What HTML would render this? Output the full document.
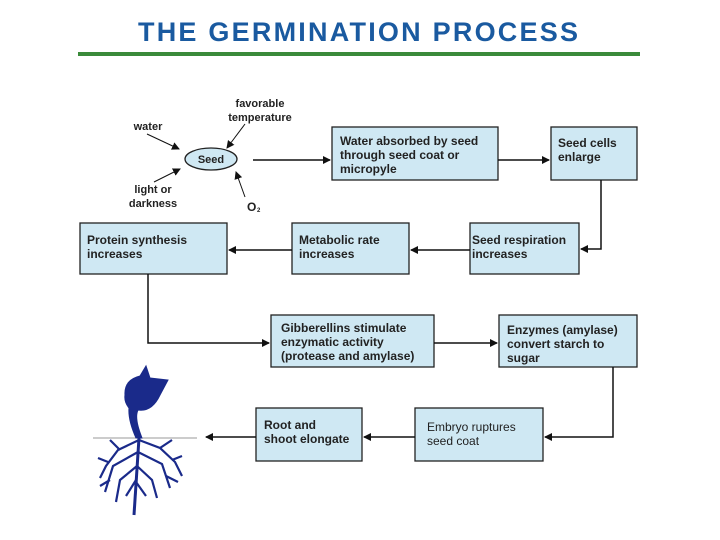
<!DOCTYPE html>
<html><head><meta charset="utf-8"><style>
body{margin:0;background:#fff}
svg{display:block}
text{font-family:"Liberation Sans",sans-serif;font-size:12px;font-weight:bold;fill:#222}
.b{fill:#cfe8f3;stroke:#222;stroke-width:1.3}
.l{stroke:#111;stroke-width:1.5;fill:none}
.t{stroke:#111;stroke-width:1;fill:none}
</style></head><body>
<svg width="720" height="540" viewBox="0 0 720 540">
<defs><marker id="a" markerWidth="8" markerHeight="8" refX="7" refY="4" orient="auto" markerUnits="userSpaceOnUse"><path d="M0,0L8,4L0,8z" fill="#111"/></marker></defs>
<text x="358" y="41" text-anchor="middle" style="font-size:27px;fill:#1a5aa0;font-weight:bold" textLength="440">THE GERMINATION PROCESS</text>
<rect x="78" y="52" width="562" height="4" fill="#3a8a3a"/>
<!-- seed -->
<ellipse cx="211" cy="159" rx="26" ry="11" class="b"/>
<text x="211" y="163" text-anchor="middle" style="font-size:11px">Seed</text>
<text x="148" y="130" text-anchor="middle" style="font-size:11px">water</text>
<text x="260" y="107" text-anchor="middle" style="font-size:11px">favorable</text>
<text x="260" y="121" text-anchor="middle" style="font-size:11px">temperature</text>
<text x="153" y="193" text-anchor="middle" style="font-size:11px">light or</text>
<text x="153" y="207" text-anchor="middle" style="font-size:11px">darkness</text>
<text x="247" y="211" style="font-size:12px">O</text><text x="257" y="212" style="font-size:6px">2</text>
<path class="t" d="M147,134 L179,149" marker-end="url(#a)"/>
<path class="t" d="M245,124 L227,148" marker-end="url(#a)"/>
<path class="t" d="M154,182 L180,169" marker-end="url(#a)"/>
<path class="t" d="M245,197 L236,172" marker-end="url(#a)"/>
<!-- boxes -->
<rect class="b" x="332" y="127" width="166" height="53"/>
<text x="340" y="145">Water absorbed by seed</text><text x="340" y="159">through seed coat or</text><text x="340" y="173">micropyle</text>
<rect class="b" x="551" y="127" width="86" height="53"/>
<text x="558" y="147">Seed cells</text><text x="558" y="161">enlarge</text>
<rect class="b" x="470" y="223" width="109" height="51"/>
<text x="472" y="244">Seed respiration</text><text x="472" y="258">increases</text>
<rect class="b" x="292" y="223" width="117" height="51"/>
<text x="299" y="244">Metabolic rate</text><text x="299" y="258">increases</text>
<rect class="b" x="80" y="223" width="147" height="51"/>
<text x="87" y="244">Protein synthesis</text><text x="87" y="258">increases</text>
<rect class="b" x="271" y="315" width="163" height="52"/>
<text x="281" y="332">Gibberellins stimulate</text><text x="281" y="346">enzymatic activity</text><text x="281" y="360">(protease and amylase)</text>
<rect class="b" x="499" y="315" width="138" height="52"/>
<text x="507" y="334">Enzymes (amylase)</text><text x="507" y="348">convert starch to</text><text x="507" y="362">sugar</text>
<rect class="b" x="415" y="408" width="128" height="53"/>
<text x="427" y="431" style="font-weight:normal">Embryo ruptures</text><text x="427" y="445" style="font-weight:normal">seed coat</text>
<rect class="b" x="256" y="408" width="106" height="53"/>
<text x="264" y="429">Root and</text><text x="264" y="443">shoot elongate</text>
<!-- connectors -->
<path class="l" d="M253,160 L330,160" marker-end="url(#a)"/>
<path class="l" d="M498,160 L549,160" marker-end="url(#a)"/>
<path class="l" d="M601,180 L601,249 L581,249" marker-end="url(#a)"/>
<path class="l" d="M470,250 L411,250" marker-end="url(#a)"/>
<path class="l" d="M292,250 L229,250" marker-end="url(#a)"/>
<path class="l" d="M148,274 L148,343 L269,343" marker-end="url(#a)"/>
<path class="l" d="M434,343 L497,343" marker-end="url(#a)"/>
<path class="l" d="M613,367 L613,437 L545,437" marker-end="url(#a)"/>
<path class="l" d="M415,437 L364,437" marker-end="url(#a)"/>
<path class="l" d="M256,437 L206,437" marker-end="url(#a)"/>
<!-- plant -->
<line x1="93" y1="438" x2="197" y2="438" stroke="#999" stroke-width="1"/>
<g fill="#1a2a8a" stroke="#1a2a8a">
<path d="M125,395 Q124,380 140,376 L146,366 L150,378 L168,380 L160,395 Q152,412 138,410 Q134,418 142,438 L136,438 Q128,420 129,408 Q124,402 125,395z"/>
<path d="M139,438 L134,515" stroke-width="3" fill="none"/>
<g stroke-width="2.2" fill="none">
<path d="M139,440 L118,450 L106,466 L100,478"/>
<path d="M139,440 L160,448 L175,462 L182,476"/>
<path d="M138,452 L113,466 L105,492"/>
<path d="M138,452 L162,464 L170,488"/>
<path d="M137,466 L120,480 L116,502"/>
<path d="M137,466 L152,480 L157,498"/>
<path d="M136,480 L126,496"/><path d="M136,482 L146,496"/>
<path d="M120,450 L110,440"/><path d="M160,448 L172,440"/>
<path d="M108,462 L98,458"/><path d="M172,460 L182,456"/>
<path d="M110,480 L100,486"/><path d="M166,476 L178,482"/>
</g></g>
</svg>
</body></html>
